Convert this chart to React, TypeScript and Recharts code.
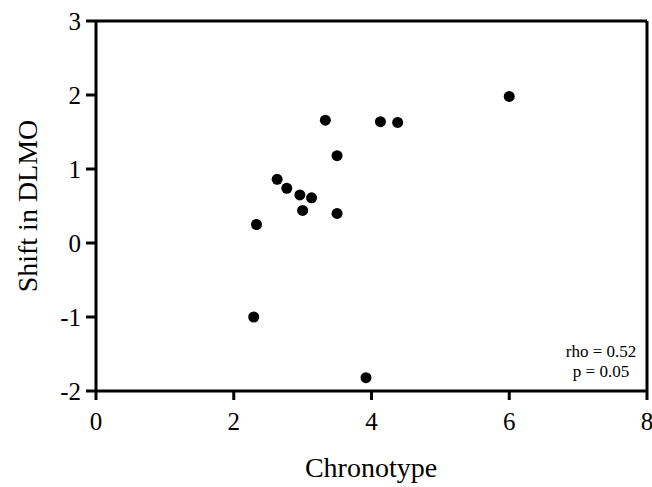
import { Label, ReferenceLine, Scatter, ScatterChart, XAxis, YAxis } from "recharts"

// One entry per subject.
const chronotype = [6.0, 3.33, 4.13, 4.38, 3.5, 2.63, 2.77, 2.96, 3.13, 3.0, 3.5, 2.33, 2.29, 3.92]
const dlmoShift = [1.98, 1.66, 1.64, 1.63, 1.18, 0.86, 0.74, 0.65, 0.61, 0.44, 0.4, 0.25, -1.0, -1.82]

const xTicks = [0, 2, 4, 6, 8]
const yTicks = [-2, -1, 0, 1, 2, 3]

const points = chronotype.map((x, i) => ({ x, y: dlmoShift[i] }))

const FONT = '"Liberation Serif", "Times New Roman", serif'
const axisLine = { stroke: "#000", strokeWidth: 3 }

function XTick({ x, y, payload }: any) {
  return (
    <text x={x} y={y + 30} textAnchor="middle" fontSize={25} fontFamily={FONT} fill="#000">
      {payload.value}
    </text>
  )
}

function YTick({ x, y, payload }: any) {
  return (
    <text x={x - 5} y={y + 9} textAnchor="end" fontSize={25} fontFamily={FONT} fill="#000">
      {payload.value}
    </text>
  )
}

export default function App() {
  return (
    <div style={{ position: "absolute", left: 0, top: 0, background: "#fff" }}>
      <ScatterChart width={652} height={487} margin={{ top: 21, right: 5, bottom: 0, left: 0 }}>
        <XAxis
          type="number"
          dataKey="x"
          domain={[0, 8]}
          ticks={xTicks}
          height={96}
          axisLine={axisLine}
          tickLine={axisLine}
          tickSize={9}
          tickMargin={0}
          tick={<XTick />}
        >
          <Label
            content={() => (
              <text x={371} y={477} textAnchor="middle" fontSize={28} fontFamily={FONT} fill="#000">
                Chronotype
              </text>
            )}
          />
        </XAxis>
        <YAxis
          type="number"
          dataKey="y"
          domain={[-2, 3]}
          ticks={yTicks}
          width={96}
          axisLine={axisLine}
          tickLine={axisLine}
          tickSize={10}
          tickMargin={0}
          tick={<YTick />}
        >
          <Label
            content={() => (
              <text
                x={0}
                y={0}
                transform="translate(37 206) rotate(-90)"
                textAnchor="middle"
                fontSize={28}
                fontFamily={FONT}
                fill="#000"
              >
                Shift in DLMO
              </text>
            )}
          />
        </YAxis>
        <ReferenceLine y={3} stroke="#000" strokeWidth={3} />
        <ReferenceLine x={8} stroke="#000" strokeWidth={3} />
        <Scatter
          data={points}
          fill="#000"
          isAnimationActive={false}
          shape={(props: any) => <circle cx={props.cx} cy={props.cy} r={5.5} fill="#000" />}
        />
        <text x={601} y={357} textAnchor="middle" fontSize={17} fontFamily={FONT} fill="#000">
          rho = 0.52
        </text>
        <text x={601} y={377} textAnchor="middle" fontSize={17} fontFamily={FONT} fill="#000">
          p = 0.05
        </text>
      </ScatterChart>
    </div>
  )
}
